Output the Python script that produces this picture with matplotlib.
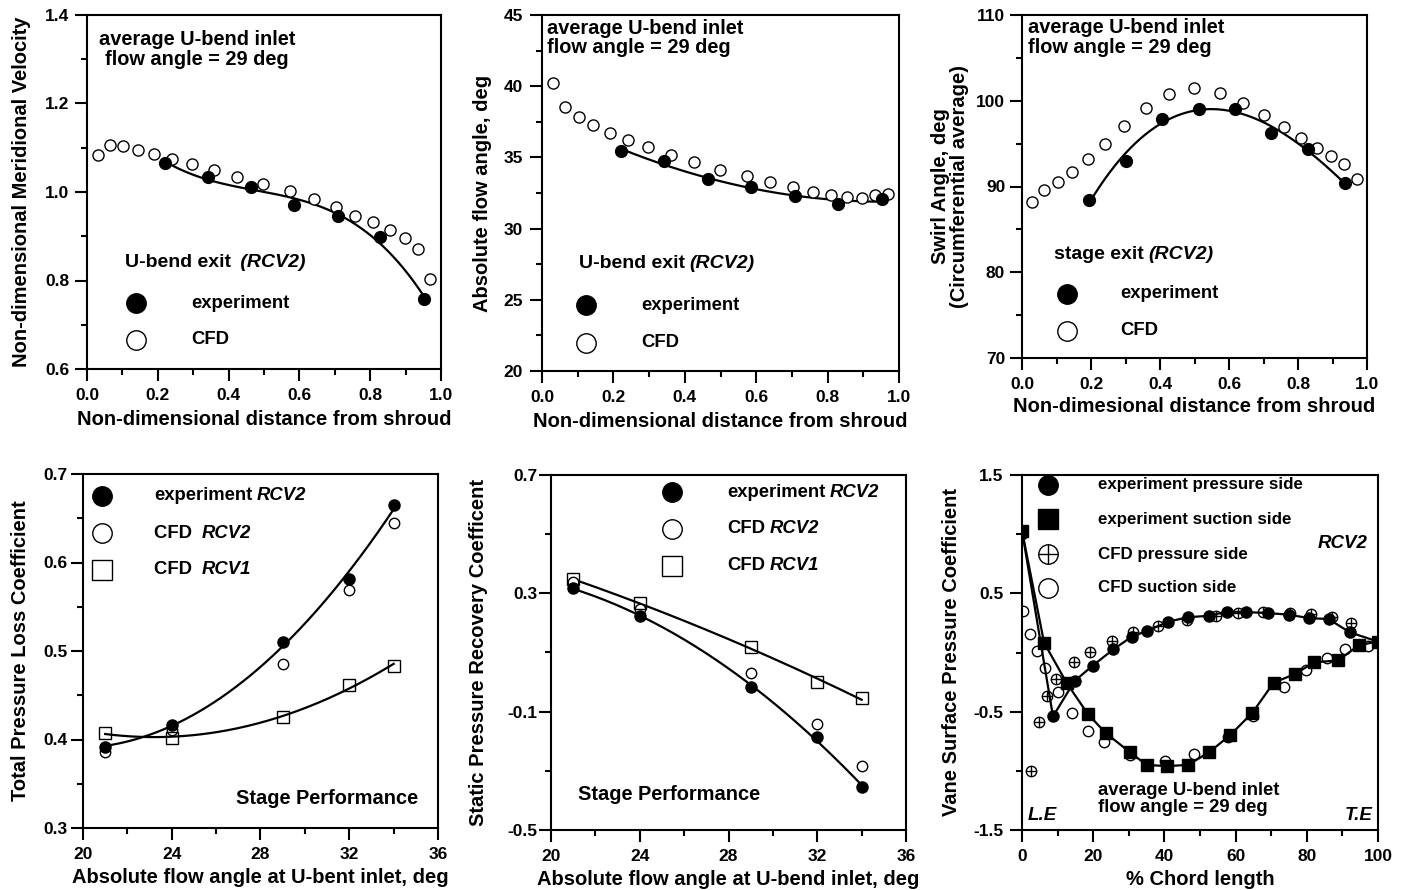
import numpy as np
import matplotlib.pyplot as plt
from matplotlib.ticker import MultipleLocator, FixedLocator

plt.rcParams.update({
    'font.family': ['Liberation Sans', 'DejaVu Sans'],
    'font.weight': 'bold',
    'axes.labelweight': 'bold',
    'axes.labelsize': 14.5,
    'axes.linewidth': 1.5,
    'axes.unicode_minus': False,
    'xtick.labelsize': 12.5,
    'ytick.labelsize': 12.5,
    'xtick.major.size': 8.5, 'ytick.major.size': 8.5,
    'xtick.minor.size': 4, 'ytick.minor.size': 4,
    'xtick.major.width': 1.5, 'ytick.major.width': 1.5,
    'xtick.minor.width': 1.5, 'ytick.minor.width': 1.5,
    'xtick.major.pad': 5.5,
})

# -----------------------
# Data
# -----------------------
# spanwise traverse, non-dimensional distance from shroud
EXP_X = [0.22, 0.341, 0.464, 0.585, 0.708, 0.829, 0.952]
CFD_X = [0.03, 0.065, 0.103, 0.144, 0.19, 0.241, 0.297, 0.36, 0.425, 0.498,
         0.573, 0.64, 0.702, 0.758, 0.809, 0.855, 0.897, 0.934, 0.97]

VEL_EXP = [1.065, 1.035, 1.012, 0.971, 0.946, 0.898, 0.758]
VEL_CFD = [1.084, 1.106, 1.103, 1.094, 1.085, 1.075, 1.063, 1.050, 1.035, 1.017,
           1.002, 0.984, 0.966, 0.946, 0.933, 0.914, 0.895, 0.871, 0.803]

ANG_EXP = [35.45, 34.77, 33.46, 32.94, 32.31, 31.73, 32.06]
ANG_CFD = [40.2, 38.56, 37.86, 37.28, 36.74, 36.22, 35.71, 35.17, 34.65, 34.12,
           33.72, 33.25, 32.90, 32.59, 32.36, 32.20, 32.13, 32.36, 32.43]

SWIRL_EXP_X = [0.194, 0.300, 0.407, 0.513, 0.618, 0.723, 0.829, 0.935]
SWIRL_EXP = [88.37, 92.99, 97.92, 99.09, 99.09, 96.21, 94.43, 90.39]
SWIRL_CFD = [88.21, 89.61, 90.50, 91.67, 93.18, 94.97, 97.07, 99.13, 100.80, 101.46,
             100.95, 99.71, 98.35, 96.91, 95.71, 94.54, 93.50, 92.60, 90.89]

# stage performance vs. U-bend inlet flow angle
INLET_ANGLE = [21, 24, 29, 32, 34]
LOSS_EXP = [0.392, 0.416, 0.510, 0.581, 0.665]
LOSS_CFD2 = [0.386, 0.411, 0.485, 0.569, 0.645]
LOSS_CFD1 = [0.407, 0.402, 0.425, 0.462, 0.483]
CP_EXP = [0.317, 0.223, -0.016, -0.185, -0.356]
CP_CFD2 = [0.339, 0.246, 0.032, -0.142, -0.283]
CP_CFD1 = [0.347, 0.266, 0.120, -0.001, -0.053]

# vane surface pressure, % chord
PS_EXP_X = [0, 8.7, 14.8, 19.9, 25.7, 30.9, 35.1, 41.1, 46.5, 52.5, 57.5, 62.9,
            69.0, 74.9, 80.7, 86.1, 92.1, 100]
PS_EXP = [1.03, -0.54, -0.24, -0.11, 0.027, 0.135, 0.182, 0.26, 0.298, 0.31, 0.345,
          0.342, 0.333, 0.32, 0.29, 0.283, 0.17, 0.092]
SS_EXP_X = [0, 6.2, 12.6, 18.5, 23.5, 30.2, 35.0, 40.7, 46.6, 52.5, 58.4, 64.7,
            70.7, 76.6, 82.1, 88.8, 94.7, 100]
SS_EXP = [1.03, 0.083, -0.26, -0.52, -0.68, -0.84, -0.95, -0.96, -0.95, -0.845,
          -0.70, -0.51, -0.255, -0.183, -0.083, -0.067, 0.063, 0.092]
PS_CFD_X = [2.6, 4.8, 7.0, 9.6, 14.7, 19.0, 25.3, 31.3, 38.1, 46.4, 54.6, 60.7,
            67.7, 75.2, 81.3, 87.2, 92.3]
PS_CFD = [-1.0, -0.59, -0.37, -0.22, -0.083, 0.005, 0.10, 0.176, 0.228, 0.275,
          0.311, 0.337, 0.345, 0.337, 0.325, 0.303, 0.246]
SS_CFD_X = [0, 0.4, 2.3, 4.1, 6.4, 10.0, 14.0, 18.5, 22.9, 30.2, 40.1, 48.2,
            58.0, 64.9, 73.7, 79.7, 85.6, 90.7, 97.3]
SS_CFD = [1.0, 0.353, 0.155, 0.013, -0.13, -0.335, -0.51, -0.66, -0.76, -0.87,
          -0.92, -0.86, -0.71, -0.54, -0.295, -0.15, -0.049, 0.027, 0.055]

W, H = 1407, 890
INLET_NOTE = 'average U-bend inlet\nflow angle = 29 deg'
NOTE_FS = 14.4
KEY_FS = 13.3


def add_axes(fig, left, top, width, height):
    # pixel box -> figure fraction
    return fig.add_axes([left / W, 1 - (top + height) / H, width / W, height / H])


def trend(ax, x, y, deg):
    # polynomial trend line through the measured points
    c = np.polyfit(x, y, deg)
    xs = np.linspace(min(x), max(x), 200)
    ax.plot(xs, np.polyval(c, xs), color='k', lw=1.6, zorder=2)


def rich(ax, x, y, parts, size=KEY_FS):
    # text made of consecutive pieces with different styles
    t = ax.text(x, y, parts[0][0], transform=ax.transAxes, fontsize=size,
                style=parts[0][1], ha='left', va='center')
    for s, st in parts[1:]:
        t = ax.annotate(s, xy=(1, 0), xycoords=t, xytext=(3, 0),
                        textcoords='offset points', fontsize=size, style=st,
                        ha='left', va='bottom', fontweight='bold')
    return t


def key(ax, x, y, marker, filled, ms=14, cross=False):
    mfc = 'k' if filled else 'white'
    ax.plot([x], [y], marker=marker, ms=ms, mfc=mfc, mec='k', mew=1.0,
            transform=ax.transAxes, clip_on=False, ls='none')
    if cross:
        ax.plot([x], [y], marker='+', ms=ms, mec='k', mew=1.0,
                transform=ax.transAxes, clip_on=False, ls='none')


def style(ax, ypad, ylab_x, xlab_y=-0.114):
    ax.tick_params(which='both', top=False, right=False)
    ax.tick_params(axis='y', which='major', pad=ypad)
    ax.yaxis.set_label_coords(ylab_x, 0.5)
    ax.xaxis.set_label_coords(0.5, xlab_y)
    for s in ax.spines.values():
        s.set_linewidth(1.5)


def main():
    fig = plt.figure(figsize=(W / 100, H / 100), dpi=100)

    # ---- panel 1: meridional velocity
    ax = add_axes(fig, 87, 15, 354, 354)
    ax.plot(CFD_X, VEL_CFD, 'o', ms=8, mfc='white', mec='k', mew=1.0, zorder=3)
    trend(ax, EXP_X, VEL_EXP, 3)
    ax.plot(EXP_X, VEL_EXP, 'o', ms=8.5, color='k', zorder=4)
    ax.set_xlim(0, 1)
    ax.set_ylim(0.6, 1.4)
    ax.xaxis.set_major_locator(MultipleLocator(0.2))
    ax.xaxis.set_minor_locator(MultipleLocator(0.1))
    ax.yaxis.set_major_locator(MultipleLocator(0.2))
    ax.yaxis.set_minor_locator(MultipleLocator(0.1))
    ax.set_xlabel('Non-dimensional distance from shroud')
    ax.set_ylabel('Non-dimensional Meridional Velocity')
    ax.text(0.31, 0.958, INLET_NOTE, transform=ax.transAxes, fontsize=NOTE_FS,
            ha='center', va='top', multialignment='center', linespacing=1.05)
    rich(ax, 0.107, 0.30, [('U-bend exit', 'normal'), (' (RCV2)', 'italic')], size=14)
    key(ax, 0.138, 0.186, 'o', True)
    key(ax, 0.138, 0.082, 'o', False)
    ax.text(0.294, 0.186, 'experiment', transform=ax.transAxes, fontsize=KEY_FS, va='center')
    ax.text(0.294, 0.082, 'CFD', transform=ax.transAxes, fontsize=KEY_FS, va='center')
    style(ax, 4.3, -0.158, -0.116)

    # ---- panel 2: absolute flow angle
    ax = add_axes(fig, 542, 15, 357, 356)
    ax.plot(CFD_X, ANG_CFD, 'o', ms=8, mfc='white', mec='k', mew=1.0, zorder=3)
    trend(ax, EXP_X, ANG_EXP, 2)
    ax.plot(EXP_X, ANG_EXP, 'o', ms=8.5, color='k', zorder=4)
    ax.set_xlim(0, 1)
    ax.set_ylim(20, 45)
    ax.xaxis.set_major_locator(MultipleLocator(0.2))
    ax.xaxis.set_minor_locator(MultipleLocator(0.1))
    ax.yaxis.set_major_locator(MultipleLocator(5))
    ax.yaxis.set_minor_locator(MultipleLocator(2.5))
    ax.set_xlabel('Non-dimensional distance from shroud')
    ax.set_ylabel('Absolute flow angle, deg')
    ax.text(0.014, 0.99, INLET_NOTE, transform=ax.transAxes, fontsize=NOTE_FS,
            ha='left', va='top', linespacing=1.05)
    rich(ax, 0.104, 0.303, [('U-bend exit', 'normal'), ('(RCV2)', 'italic')], size=14)
    key(ax, 0.124, 0.185, 'o', True)
    key(ax, 0.124, 0.079, 'o', False)
    ax.text(0.277, 0.185, 'experiment', transform=ax.transAxes, fontsize=KEY_FS, va='center')
    ax.text(0.277, 0.079, 'CFD', transform=ax.transAxes, fontsize=KEY_FS, va='center')
    style(ax, 5, -0.14, -0.115)

    # ---- panel 3: swirl angle
    ax = add_axes(fig, 1022, 15, 345, 343)
    ax.plot(CFD_X, SWIRL_CFD, 'o', ms=8, mfc='white', mec='k', mew=1.0, zorder=3)
    trend(ax, SWIRL_EXP_X, SWIRL_EXP, 3)
    ax.plot(SWIRL_EXP_X, SWIRL_EXP, 'o', ms=8.5, color='k', zorder=4)
    ax.set_xlim(0, 1)
    ax.set_ylim(70, 110)
    ax.xaxis.set_major_locator(MultipleLocator(0.2))
    ax.xaxis.set_minor_locator(MultipleLocator(0.1))
    ax.yaxis.set_major_locator(MultipleLocator(10))
    ax.yaxis.set_minor_locator(MultipleLocator(5))
    ax.set_xlabel('Non-dimesional distance from shroud')
    ax.set_ylabel('Swirl Angle, deg\n(Circumferential average)', linespacing=0.95)
    ax.text(0.017, 0.99, INLET_NOTE, transform=ax.transAxes, fontsize=NOTE_FS,
            ha='left', va='top', linespacing=1.05)
    rich(ax, 0.093, 0.303, [('stage exit', 'normal'), ('(RCV2)', 'italic')], size=14)
    key(ax, 0.13, 0.187, 'o', True)
    key(ax, 0.13, 0.079, 'o', False)
    ax.text(0.284, 0.187, 'experiment', transform=ax.transAxes, fontsize=KEY_FS, va='center')
    ax.text(0.284, 0.079, 'CFD', transform=ax.transAxes, fontsize=KEY_FS, va='center')
    style(ax, 3.6, -0.155, -0.114)

    # ---- panel 4: total pressure loss
    ax = add_axes(fig, 83, 474, 355, 354)
    trend(ax, INLET_ANGLE, LOSS_EXP, 2)
    trend(ax, INLET_ANGLE, LOSS_CFD1, 2)
    ax.plot(INLET_ANGLE, LOSS_CFD2, 'o', ms=7.5, mfc='white', mec='k', mew=1.0, zorder=3)
    ax.plot(INLET_ANGLE, LOSS_EXP, 'o', ms=8, color='k', zorder=4)
    ax.plot(INLET_ANGLE, LOSS_CFD1, 's', ms=8, mfc='none', mec='k', mew=1.0, zorder=5)
    ax.set_xlim(20, 36)
    ax.set_ylim(0.3, 0.7)
    ax.xaxis.set_major_locator(MultipleLocator(4))
    ax.xaxis.set_minor_locator(MultipleLocator(2))
    ax.yaxis.set_major_locator(MultipleLocator(0.1))
    ax.yaxis.set_minor_locator(MultipleLocator(0.05))
    ax.set_xlabel('Absolute flow angle at U-bent inlet, deg')
    ax.set_ylabel('Total Pressure Loss Coefficient')
    key(ax, 0.053, 0.938, 'o', True)
    key(ax, 0.053, 0.833, 'o', False)
    key(ax, 0.053, 0.729, 's', False)
    rich(ax, 0.2, 0.938, [('experiment', 'normal'), ('RCV2', 'italic')])
    rich(ax, 0.2, 0.833, [('CFD ', 'normal'), ('RCV2', 'italic')])
    rich(ax, 0.2, 0.729, [('CFD ', 'normal'), ('RCV1', 'italic')])
    ax.text(0.944, 0.082, 'Stage Performance', transform=ax.transAxes,
            fontsize=NOTE_FS, ha='right', va='center')
    style(ax, 2.9, -0.148, -0.113)

    # ---- panel 5: static pressure recovery
    ax = add_axes(fig, 551, 475, 355, 355)
    trend(ax, INLET_ANGLE, CP_EXP, 2)
    trend(ax, INLET_ANGLE, CP_CFD1, 2)
    ax.plot(INLET_ANGLE, CP_CFD2, 'o', ms=7.5, mfc='white', mec='k', mew=1.0, zorder=3)
    ax.plot(INLET_ANGLE, CP_EXP, 'o', ms=8, color='k', zorder=4)
    ax.plot(INLET_ANGLE, CP_CFD1, 's', ms=8, mfc='none', mec='k', mew=1.0, zorder=5)
    ax.set_xlim(20, 36)
    ax.set_ylim(-0.5, 0.7)
    ax.xaxis.set_major_locator(MultipleLocator(4))
    ax.xaxis.set_minor_locator(MultipleLocator(2))
    ax.yaxis.set_major_locator(FixedLocator([-0.5, -0.1, 0.3, 0.7]))
    ax.yaxis.set_minor_locator(FixedLocator([-0.3, 0.1, 0.5]))
    ax.set_xlabel('Absolute flow angle at U-bend inlet, deg')
    ax.set_ylabel('Static Pressure Recovery Coefficent')
    key(ax, 0.341, 0.952, 'o', True)
    key(ax, 0.341, 0.848, 'o', False)
    key(ax, 0.341, 0.744, 's', False)
    rich(ax, 0.496, 0.952, [('experiment', 'normal'), ('RCV2', 'italic')])
    rich(ax, 0.496, 0.848, [('CFD', 'normal'), ('RCV2', 'italic')])
    rich(ax, 0.496, 0.744, [('CFD', 'normal'), ('RCV1', 'italic')])
    ax.text(0.076, 0.099, 'Stage Performance', transform=ax.transAxes,
            fontsize=NOTE_FS, ha='left', va='center')
    style(ax, 1.5, -0.177, -0.113)

    # ---- panel 6: vane surface pressure
    ax = add_axes(fig, 1022, 475, 356, 355)
    ax.plot(SS_CFD_X, SS_CFD, 'o', ms=7.5, mfc='white', mec='k', mew=1.0, zorder=2)
    ax.plot(PS_CFD_X, PS_CFD, 'o', ms=7.5, mfc='white', mec='k', mew=1.0, zorder=2)
    ax.plot(PS_CFD_X, PS_CFD, '+', ms=7.5, mec='k', mew=1.0, zorder=2)
    ax.plot(PS_EXP_X, PS_EXP, '-o', ms=8, color='k', lw=1.6, zorder=3)
    ax.plot(SS_EXP_X, SS_EXP, '-s', ms=8.5, color='k', lw=1.6, zorder=4)
    ax.set_xlim(0, 100)
    ax.set_ylim(-1.5, 1.5)
    ax.xaxis.set_major_locator(MultipleLocator(20))
    ax.xaxis.set_minor_locator(MultipleLocator(10))
    ax.yaxis.set_major_locator(FixedLocator([-1.5, -0.5, 0.5, 1.5]))
    ax.yaxis.set_minor_locator(FixedLocator([-1.0, 0.0, 1.0]))
    ax.set_xlabel('% Chord length')
    ax.set_ylabel('Vane Surface Pressure Coefficient')
    key(ax, 0.073, 0.972, 'o', True)
    key(ax, 0.073, 0.876, 's', True)
    key(ax, 0.073, 0.777, 'o', False, cross=True)
    key(ax, 0.073, 0.682, 'o', False)
    for yy, lab in zip([0.972, 0.876, 0.777, 0.682],
                       ['experiment pressure side', 'experiment suction side',
                        'CFD pressure side', 'CFD suction side']):
        ax.text(0.213, yy, lab, transform=ax.transAxes, fontsize=12.2, va='center')
    ax.text(0.972, 0.806, 'RCV2', transform=ax.transAxes, fontsize=13.5,
            style='italic', ha='right', va='center')
    ax.text(0.017, 0.042, 'L.E', transform=ax.transAxes, fontsize=13.5,
            style='italic', ha='left', va='center')
    ax.text(0.985, 0.042, 'T.E', transform=ax.transAxes, fontsize=13.5,
            style='italic', ha='right', va='center')
    ax.text(0.213, 0.135, INLET_NOTE, transform=ax.transAxes, fontsize=13.3,
            ha='left', va='top', linespacing=1.0)
    style(ax, 5, -0.17, -0.113)

    fig.savefig('out.png', dpi=100)


if __name__ == '__main__':
    main()
